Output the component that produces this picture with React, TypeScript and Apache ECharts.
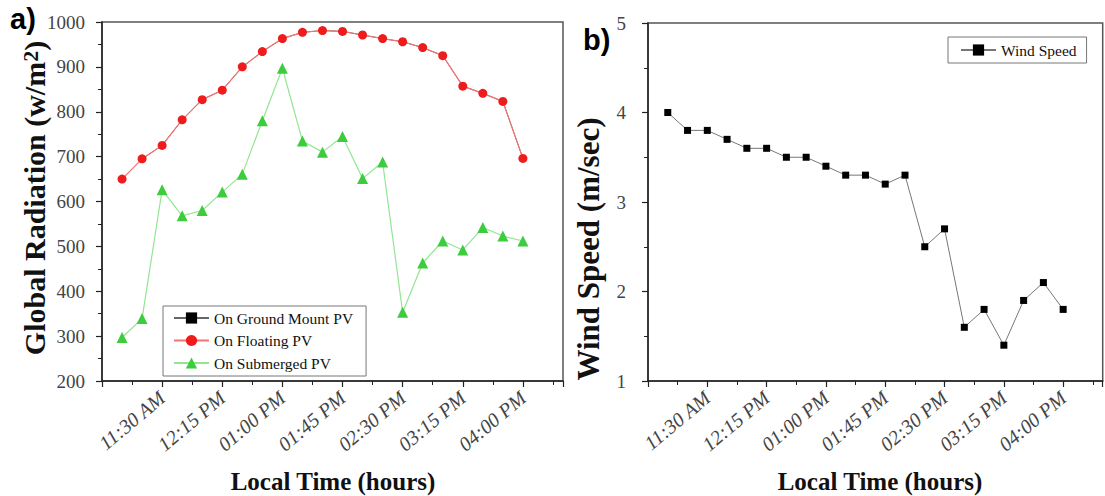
import React, { useEffect, useRef } from 'react';
import * as echarts from 'echarts';

const timeLabels = [
  '11:00 AM', '11:15 AM', '11:30 AM', '11:45 AM', '12:00 PM', '12:15 PM', '12:30 PM',
  '12:45 PM', '01:00 PM', '01:15 PM', '01:30 PM', '01:45 PM', '02:00 PM', '02:15 PM',
  '02:30 PM', '02:45 PM', '03:00 PM', '03:15 PM', '03:30 PM', '03:45 PM', '04:00 PM',
];

const groundMountPV = [650, 695, 725, 782, 827, 848, 900, 934, 963, 977, 981, 979, 971, 963, 956, 943, 925, 857, 841, 823, 696];
const floatingPV = [650, 695, 725, 782, 827, 848, 900, 934, 963, 977, 981, 979, 971, 963, 956, 943, 925, 857, 841, 823, 696];
const submergedPV = [297, 339, 626, 568, 580, 621, 661, 780, 897, 735, 710, 745, 651, 688, 353, 463, 512, 492, 542, 523, 512];
const windSpeed = [4.0, 3.8, 3.8, 3.7, 3.6, 3.6, 3.5, 3.5, 3.4, 3.3, 3.3, 3.2, 3.3, 2.5, 2.7, 1.6, 1.8, 1.4, 1.9, 2.1, 1.8];

const radiationTicks = { min: 200, max: 1000, interval: 100 };
const windTicks = { min: 1, max: 5, interval: 1 };

const serif = '"Liberation Serif", "Times New Roman", serif';
const sans = '"Liberation Sans", Arial, sans-serif';

// x position of each sample on the axis (axis starts one 15-min step before the first sample)
const pairs = (vals: number[]) => vals.map((v, i) => [i + 1, v]);

export default function App() {
  const ref = useRef<HTMLDivElement>(null);

  useEffect(() => {
    const chart = echarts.init(ref.current!, null, { renderer: 'svg' });

    const xAxis = (gridIndex: number) => ({
      type: 'value',
      gridIndex,
      min: 0,
      max: 23,
      interval: 3,
      axisLine: { show: true, onZero: false, lineStyle: { color: '#222', width: 1.5 } },
      axisTick: { show: true, length: 6, lineStyle: { color: '#222', width: 1.2 } },
      minorTick: { show: true, splitNumber: 2, length: 4, lineStyle: { color: '#222', width: 1 } },
      splitLine: { show: false },
      axisLabel: {
        rotate: 40,
        margin: 14,
        fontFamily: serif,
        fontStyle: 'italic',
        fontSize: 20,
        color: '#444',
        formatter: (v: number) => timeLabels[v - 1] ?? '',
      },
    });

    const yAxis = (gridIndex: number, t: { min: number; max: number; interval: number }, margin: number) => ({
      type: 'value',
      gridIndex,
      min: t.min,
      max: t.max,
      interval: t.interval,
      axisLine: { show: true, onZero: false, lineStyle: { color: '#222', width: 1.5 } },
      axisTick: { show: true, length: 6, lineStyle: { color: '#222', width: 1.2 } },
      minorTick: { show: true, splitNumber: 2, length: 4, lineStyle: { color: '#222', width: 1 } },
      splitLine: { show: false },
      axisLabel: { margin, fontFamily: serif, fontSize: 19, color: '#444', formatter: (v: number) => String(v) },
    });

    const legendCommon = {
      orient: 'vertical',
      itemWidth: 35,
      itemHeight: 14,
      borderColor: '#777',
      borderWidth: 1,
      borderRadius: 0,
      textStyle: { fontFamily: serif, fontSize: 15.5, color: '#111' },
    };

    chart.setOption({
      animation: false,
      backgroundColor: '#fff',
      grid: [
        { left: 102, top: 22, width: 461, height: 359, show: true, borderColor: '#555', borderWidth: 1.5 },
        { left: 648, top: 23, width: 462, height: 358, show: true, borderColor: '#555', borderWidth: 1.5 },
      ],
      xAxis: [xAxis(0), xAxis(1)],
      yAxis: [yAxis(0, radiationTicks, 17), yAxis(1, windTicks, 22)],
      legend: [
        {
          ...legendCommon,
          left: 163,
          top: 306,
          itemGap: 6.5,
          padding: [4, 13, 5, 10],
          data: ['On Ground Mount PV', 'On Floating PV', 'On Submerged PV'],
        },
        {
          ...legendCommon,
          left: 948,
          top: 37,
          padding: [5, 10, 5, 12],
          data: ['Wind Speed'],
        },
      ],
      graphic: [
        { type: 'text', x: 10, y: 4, style: { text: 'a)', font: `bold 29px ${sans}`, fill: '#000', textAlign: 'left', textVerticalAlign: 'top' } },
        { type: 'text', x: 583, y: 25, style: { text: 'b)', font: `bold 29px ${sans}`, fill: '#000', textAlign: 'left', textVerticalAlign: 'top' } },
        {
          type: 'text', x: 34, y: 198, rotation: Math.PI / 2,
          style: {
            text: '{a|Global Radiation (w/m}{s|2}{a|)}',
            textAlign: 'center', textVerticalAlign: 'middle', fill: '#111',
            rich: {
              a: { font: `bold 30px ${serif}`, fill: '#111' },
              s: { font: `bold 22px ${serif}`, fill: '#111', verticalAlign: 'top' },
            },
          },
        },
        {
          type: 'text', x: 588, y: 249, rotation: Math.PI / 2,
          style: { text: 'Wind Speed (m/sec)', font: `bold 31px ${serif}`, fill: '#111', textAlign: 'center', textVerticalAlign: 'middle' },
        },
        { type: 'text', x: 333, y: 481, style: { text: 'Local Time (hours)', font: `bold 25px ${serif}`, fill: '#111', textAlign: 'center', textVerticalAlign: 'middle' } },
        { type: 'text', x: 880, y: 481, style: { text: 'Local Time (hours)', font: `bold 25px ${serif}`, fill: '#111', textAlign: 'center', textVerticalAlign: 'middle' } },
      ],
      series: [
        {
          type: 'line', name: 'On Ground Mount PV', xAxisIndex: 0, yAxisIndex: 0,
          data: pairs(groundMountPV), symbol: 'rect', symbolSize: 6, z: 2,
          itemStyle: { color: '#000' }, lineStyle: { color: '#666', width: 1 },
        },
        {
          type: 'line', name: 'On Floating PV', xAxisIndex: 0, yAxisIndex: 0,
          data: pairs(floatingPV), symbol: 'circle', symbolSize: 9, z: 3,
          itemStyle: { color: '#ee1c1c' }, lineStyle: { color: '#f27474', width: 1.2 },
        },
        {
          type: 'line', name: 'On Submerged PV', xAxisIndex: 0, yAxisIndex: 0,
          data: pairs(submergedPV), symbol: 'triangle', symbolSize: 11, z: 4,
          itemStyle: { color: '#3dcc3d' }, lineStyle: { color: '#93e593', width: 1.2 },
        },
        {
          type: 'line', name: 'Wind Speed', xAxisIndex: 1, yAxisIndex: 1,
          data: pairs(windSpeed), symbol: 'rect', symbolSize: 7,
          itemStyle: { color: '#000' }, lineStyle: { color: '#777', width: 1 },
        },
      ],
    });

    return () => chart.dispose();
  }, []);

  return <div ref={ref} style={{ position: 'absolute', left: 0, top: 0, width: 1105, height: 496 }} />;
}
